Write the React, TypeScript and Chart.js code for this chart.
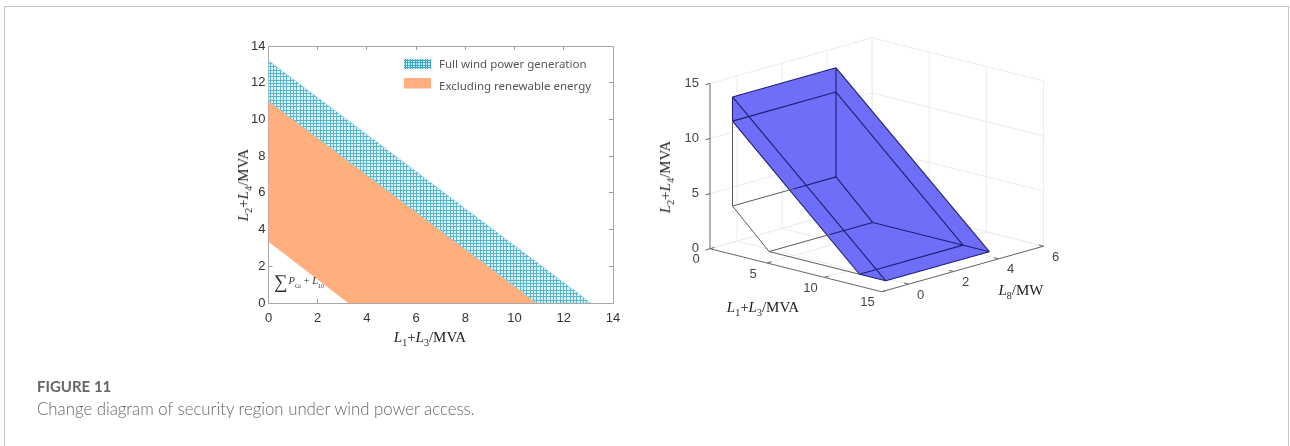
import React, { useEffect, useRef } from "react";
import { Chart, registerables } from "chart.js";

Chart.register(...registerables);

// ---------- Left chart data ----------
const leftTicks = [0, 2, 4, 6, 8, 10, 12, 14];
const fullWindBand = [
  { x: 0, y: 13.2 },
  { x: 13.1, y: 0 },
  { x: 10.9, y: 0 },
  { x: 0, y: 11 },
  { x: 0, y: 13.2 },
];
const noRenewableBand = [
  { x: 0, y: 11 },
  { x: 10.9, y: 0 },
  { x: 3.25, y: 0 },
  { x: 0, y: 3.35 },
  { x: 0, y: 11 },
];
const legendLabels = ["Full wind power generation", "Excluding renewable energy"];

// ---------- Right chart data (x = L1+L3, y = L8, z = L2+L4) ----------
const xTicks3D = [0, 5, 10, 15];
const yTicks3D = [0, 2, 4, 6];
const zTicks3D = [0, 5, 10, 15];
const yFloor = -1.2;
const yFront = -0.2;
const ySplit = 2.5;
const yBack = 4.4;
// x/z outline of the prism section
const secTopLeft = [0, 13.2];
const secTopRight = [13.4, 0];
const secInnerRight = [11.1, 0];
const secInnerLeft = [0, 11];
const secLowLeft = [0, 3.3];
const secLowRight = [3.2, 0];

const BLUE_EDGE = "#1f1f70";
const GREY_EDGE = "#5c5c5c";
const GRID = "#ececec";
const AXIS = "#666666";
const FONT_SANS = '"Liberation Sans", Arial, sans-serif';

// orthographic view of the 3-D box, in scale units of the right chart
function project(x: number, y: number, z: number) {
  return {
    x: 50 + 11.44 * x + 22.5 * (y - yFloor),
    y: 218.7 + 2.87 * x - 6.33 * (y - yFloor) - 11.02 * z,
  };
}
const v = (sec: number[], y: number) => project(sec[0], y, sec[1]);

function seg(a: any, b: any, color: string, width: number) {
  return {
    data: [a, b],
    showLine: true,
    borderColor: color,
    borderWidth: width,
    pointRadius: 0,
    fill: false,
    tension: 0,
  };
}

function makePattern(step: number[], bg: string, fg: string) {
  const size = step.reduce((a, b) => a + b, 0);
  const c = document.createElement("canvas");
  c.width = size;
  c.height = size;
  const g = c.getContext("2d")!;
  g.fillStyle = bg;
  g.fillRect(0, 0, size, size);
  g.fillStyle = fg;
  let p = 0;
  step.forEach((s) => {
    g.fillRect(p, 0, 1, size);
    g.fillRect(0, p, size, 1);
    p += s;
  });
  return g.createPattern(c, "repeat")!;
}

function Label({ a, b, unit }: { a: string; b: string; unit: string }) {
  const s: React.CSSProperties = { fontSize: 10, lineHeight: 0 };
  return (
    <>
      <i>L</i>
      <sub style={s}>{a}</sub>
      {b ? "+" : ""}
      {b ? <i>L</i> : null}
      {b ? <sub style={s}>{b}</sub> : null}
      {unit}
    </>
  );
}

function Title({ cx, cy, rot, children }: any) {
  return (
    <div
      style={{
        position: "absolute",
        left: cx,
        top: cy,
        transform: `translate(-50%,-50%)${rot ? " rotate(-90deg)" : ""}`,
        whiteSpace: "nowrap",
        fontFamily: '"Liberation Serif", serif',
        fontSize: 15,
        color: "#222",
        lineHeight: "16px",
      }}
    >
      {children}
    </div>
  );
}

export default function App() {
  const leftRef = useRef<HTMLCanvasElement>(null);
  const rightRef = useRef<HTMLCanvasElement>(null);

  useEffect(() => {
    const hatch = makePattern([3, 3, 4], "#e2f3f7", "#55b6ce");
    const hatchLegend = makePattern([2, 3], "#cfeaf1", "#3ba9c6");
    const ORANGE = "#ffae7e";

    const legendPlugin = {
      id: "insideLegend",
      afterDraw(chart: any) {
        const { ctx } = chart;
        ctx.save();
        const rows = [
          { fill: hatchLegend, top: 29, h: 10, mid: 34.8 },
          { fill: ORANGE, top: 48, h: 10.5, mid: 57 },
        ];
        rows.forEach((r, i) => {
          ctx.fillStyle = r.fill;
          ctx.fillRect(184, r.top, 27, r.h);
          ctx.fillStyle = "#555";
          ctx.font = '11.5px "Noto Sans", sans-serif';
          ctx.textBaseline = "middle";
          ctx.fillText(legendLabels[i], 219, r.mid);
        });
        ctx.restore();
      },
    };

    const tickFont = { family: FONT_SANS, size: 13 };
    const gridOpt = {
      drawOnChartArea: false,
      drawTicks: true,
      tickLength: -4,
      tickColor: "#9a9a9a",
      tickWidth: 1,
    };
    const borderOpt = { display: true, color: "#a8a8a8", width: 1 };

    const left = new Chart(leftRef.current!, {
      type: "scatter",
      data: {
        datasets: [
          {
            label: legendLabels[0],
            data: fullWindBand,
            showLine: true,
            fill: "shape",
            backgroundColor: hatch,
            borderColor: "#8fcbdb",
            borderWidth: 0.7,
            pointRadius: 0,
            tension: 0,
          },
          {
            label: legendLabels[1],
            data: noRenewableBand,
            showLine: true,
            fill: "shape",
            backgroundColor: ORANGE,
            borderColor: ORANGE,
            borderWidth: 0.5,
            pointRadius: 0,
            tension: 0,
          },
        ],
      } as any,
      options: {
        animation: false,
        responsive: false,
        devicePixelRatio: 1,
        layout: { padding: { left: 0, right: 27, top: 16, bottom: 0 } },
        plugins: { legend: { display: false }, tooltip: { enabled: false } },
        scales: {
          x: {
            type: "linear",
            min: 0,
            max: 14,
            ticks: { stepSize: 2, color: "#333", font: tickFont, padding: 12, maxRotation: 0, callback: (t: any) => (leftTicks.includes(+t) ? t : "") },
            grid: gridOpt,
            border: borderOpt,
            afterFit(s: any) { s.height = 47; },
          },
          y: {
            type: "linear",
            min: 0,
            max: 14,
            ticks: { stepSize: 2, color: "#333", font: tickFont, padding: 7, callback: (t: any) => (leftTicks.includes(+t) ? t : "") },
            grid: gridOpt,
            border: borderOpt,
            afterFit(s: any) { s.width = 48.5; },
          },
          xTop: {
            type: "linear",
            axis: "x",
            position: "top",
            min: 0,
            max: 14,
            ticks: { stepSize: 2, display: false },
            grid: gridOpt,
            border: borderOpt,
            afterFit(s: any) { s.height = 0; },
          },
          yRight: {
            type: "linear",
            axis: "y",
            position: "right",
            min: 0,
            max: 14,
            ticks: { stepSize: 2, display: false },
            grid: gridOpt,
            border: borderOpt,
            afterFit(s: any) { s.width = 0; },
          },
        },
      } as any,
      plugins: [legendPlugin],
    });

    // ---------- right chart ----------
    const zMax = zTicks3D[zTicks3D.length - 1];
    const xMax = xTicks3D[xTicks3D.length - 1];
    const yMax = yTicks3D[yTicks3D.length - 1];
    const ds: any[] = [];

    // walls and floor
    yTicks3D.forEach((y) => {
      ds.push(seg(project(0, y, 0), project(0, y, zMax), GRID, 1));
      ds.push(seg(project(0, y, 0), project(xMax, y, 0), GRID, 1));
    });
    xTicks3D.forEach((x) => {
      ds.push(seg(project(x, yMax, 0), project(x, yMax, zMax), GRID, 1));
      ds.push(seg(project(x, yFloor, 0), project(x, yMax, 0), GRID, 1));
    });
    zTicks3D.forEach((z) => {
      ds.push(seg(project(0, yFloor, z), project(0, yMax, z), GRID, 1));
      ds.push(seg(project(0, yMax, z), project(xMax, yMax, z), GRID, 1));
    });

    // translucent body
    ds.push({
      data: [
        v(secTopLeft, yFront),
        v(secTopLeft, yBack),
        v(secTopRight, yBack),
        v(secTopRight, yFront),
        v(secInnerRight, yFront),
        v(secInnerLeft, yFront),
        v(secTopLeft, yFront),
      ],
      showLine: true,
      fill: "shape",
      backgroundColor: "rgba(90,90,248,0.88)",
      borderWidth: 0,
      pointRadius: 0,
      tension: 0,
    });

    // body edges
    const dark: [number[], number, number[], number][] = [
      [secTopLeft, yFront, secTopLeft, yBack],
      [secInnerLeft, yFront, secInnerLeft, yBack],
      [secTopLeft, yFront, secTopRight, yFront],
      [secInnerLeft, yFront, secInnerRight, yFront],
      [secTopLeft, yBack, secTopRight, yBack],
      [secInnerLeft, yBack, secInnerRight, yBack],
      [secTopLeft, yBack, secLowLeft, yBack],
      [secLowLeft, yBack, secLowRight, yBack],
      [secLowRight, yBack, secTopRight, yBack],
      [secInnerRight, yFront, secInnerRight, yBack],
      [secTopRight, yFront, secTopRight, yBack],
      [secInnerRight, yFront, secTopRight, yFront],
      [secTopLeft, yFront, secInnerLeft, yFront],
      [secLowLeft, ySplit, secLowLeft, yBack],
      [secLowRight, ySplit, secLowRight, yBack],
    ];
    dark.forEach(([a, ya, b, yb]) => ds.push(seg(v(a, ya), v(b, yb), BLUE_EDGE, 1.1)));
    const grey: [number[], number, number[], number][] = [
      [secInnerLeft, yFront, secLowLeft, yFront],
      [secLowLeft, yFront, secLowRight, yFront],
      [secLowRight, yFront, secInnerRight, yFront],
      [secLowLeft, yFront, secLowLeft, ySplit],
      [secLowRight, yFront, secLowRight, ySplit],
    ];
    grey.forEach(([a, ya, b, yb]) => ds.push(seg(v(a, ya), v(b, yb), GREY_EDGE, 1)));

    // axes and ticks
    ds.push(seg(project(0, yFloor, 0), project(0, yFloor, zMax), AXIS, 1));
    ds.push(seg(project(0, yFloor, 0), project(xMax, yFloor, 0), AXIS, 1));
    ds.push(seg(project(xMax, yFloor, 0), project(xMax, yMax, 0), AXIS, 1));
    zTicks3D.forEach((z) => ds.push(seg(project(0, yFloor, z), project(0, yFloor - 0.2, z), AXIS, 1)));
    xTicks3D.forEach((x) => ds.push(seg(project(x, yFloor, 0), project(x, yFloor + 0.2, 0), AXIS, 1)));
    yTicks3D.forEach((y) => ds.push(seg(project(xMax, y, 0), project(xMax - 0.4, y, 0), AXIS, 1)));

    // Chart.js paints the first dataset last: give every dataset its paint order
    ds.forEach((d, i) => { d.order = ds.length - i; });

    const tickTextPlugin = {
      id: "tickText3D",
      afterDatasetsDraw(chart: any) {
        const { ctx, scales } = chart;
        const put = (p: any, text: number, dx: number, dy: number, align: CanvasTextAlign) => {
          ctx.textAlign = align;
          ctx.fillText(String(text), scales.x.getPixelForValue(p.x) + dx, scales.y.getPixelForValue(p.y) + dy);
        };
        ctx.save();
        ctx.font = `13px ${FONT_SANS}`;
        ctx.fillStyle = "#444";
        ctx.textBaseline = "middle";
        zTicks3D.forEach((z) => put(project(0, yFloor, z), z, -11, 0, "right"));
        xTicks3D.forEach((x) => put(project(x, yFloor, 0), x, -14, 11, "center"));
        yTicks3D.forEach((y) => put(project(xMax, y, 0), y, 12, 11, "center"));
        ctx.restore();
      },
    };

    const right = new Chart(rightRef.current!, {
      type: "scatter",
      data: { datasets: ds },
      options: {
        animation: false,
        responsive: false,
        devicePixelRatio: 1,
        layout: { padding: 0 },
        plugins: {
          legend: { display: false },
          tooltip: { enabled: false },
          filler: { drawTime: "beforeDatasetDraw" },
        },
        scales: {
          x: { type: "linear", display: false, min: 0, max: 420 },
          y: { type: "linear", display: false, min: 0, max: 300, reverse: true },
        },
      } as any,
      plugins: [tickTextPlugin],
    });

    return () => {
      left.destroy();
      right.destroy();
    };
  }, []);

  return (
    <div style={{ position: "absolute", left: 0, top: 0, width: 1290, height: 446, background: "#fff", overflow: "hidden" }}>
      <div
        style={{
          position: "absolute",
          left: 4,
          top: 6,
          width: 1285,
          height: 445,
          border: "1px solid #c4c4c4",
          boxSizing: "border-box",
        }}
      />
      <div style={{ position: "absolute", inset: 0, filter: "blur(0.45px)" }}>
        <canvas ref={leftRef} width={420} height={320} style={{ position: "absolute", left: 220, top: 30, width: 420, height: 320 }} />
        <canvas ref={rightRef} width={420} height={300} style={{ position: "absolute", left: 660, top: 30, width: 420, height: 300 }} />
        <Title cx={430} cy={337}><Label a="1" b="3" unit="/MVA" /></Title>
        <Title cx={243} cy={185} rot><Label a="2" b="4" unit="/MVA" /></Title>
        <Title cx={763} cy={307}><Label a="1" b="3" unit="/MVA" /></Title>
        <Title cx={1021} cy={290}><Label a="8" b="" unit="/MW" /></Title>
        <Title cx={665} cy={177} rot><Label a="2" b="4" unit="/MVA" /></Title>
        <div style={{ position: "absolute", left: 274, top: 272, whiteSpace: "nowrap", fontFamily: '"Liberation Serif", serif', color: "#333", fontSize: 10.5 }}>
          <span style={{ fontSize: 19, lineHeight: "20px", verticalAlign: "middle" }}>∑</span>
          <i style={{ marginLeft: 1 }}>P</i>
          <sub style={{ fontSize: 6, lineHeight: 0 }}>Gi</sub>
          {" + "}
          <i>L</i>
          <sub style={{ fontSize: 6, lineHeight: 0 }}>10</sub>
        </div>
      </div>
      <div style={{ position: "absolute", left: 37, top: 376, filter: "blur(0.3px)", fontFamily: "Lato, sans-serif", color: "#666", fontSize: 15, lineHeight: "20px" }}>
        <div style={{ fontWeight: 700 }}>FIGURE 11</div>
        <div style={{ fontWeight: 300, fontSize: 16.8, marginTop: 3 }}>Change diagram of security region under wind power access.</div>
      </div>
    </div>
  );
}
